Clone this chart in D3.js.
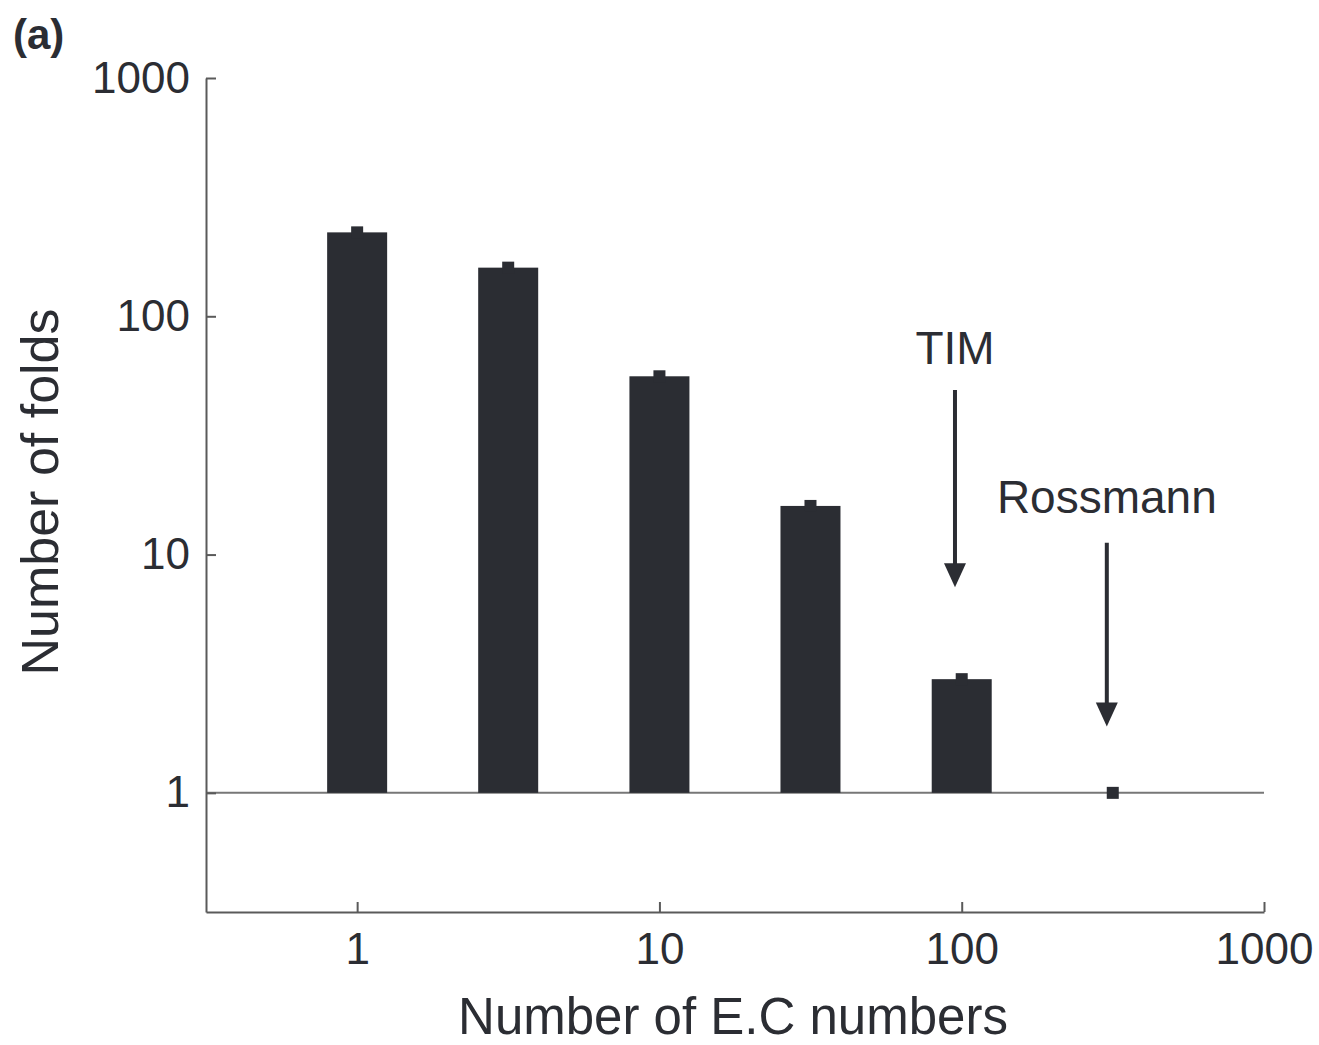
<!doctype html>
<html>
  <head>
    <meta charset="utf8">
    <script src="https://d3js.org/d3.v7.min.js"></script>
    <style type="text/css">
      body {
        margin: 0;
        background: #fff;
        font-family: 'Liberation Sans', Arial, sans-serif;
      }
    </style>
  </head>
  <body>
    <script type="text/javascript">
      const w = 1319;
      const h = 1045;
      const ink = '#2b2d33';
      const axisColor = '#5a5a5a';

      // number of E.C numbers (bin centres) and number of folds
      const ecNumbers = [1, 3.16, 10, 31.6, 100, 316];
      const folds = [225, 160, 56, 16, 3, 1];
      const tickValues = [1, 10, 100, 1000];

      // arrows: label, x, label y, arrow start y, arrow tip y (data units)
      const notes = [
        {label: 'TIM', x: 95, ty: 63, y0: 49, y1: 7.3},
        {label: 'Rossmann', x: 302, ty: 15, y0: 11.2, y1: 1.9}
      ];

      const xScale = d3.scaleLog()
        .domain([Math.pow(10, -0.5), 1000])
        .range([206, 1264]);

      const yScale = d3.scaleLog()
        .domain([Math.pow(10, -0.5), 1000])
        .range([912, 78]);

      const svg = d3.select('body')
        .append('svg')
        .attr('width', w)
        .attr('height', h);

      // baseline at 1
      svg.append('line')
        .attr('x1', xScale.range()[0])
        .attr('x2', xScale.range()[1])
        .attr('y1', yScale(1))
        .attr('y2', yScale(1))
        .attr('stroke', '#777')
        .attr('stroke-width', 2);

      const barW = 60;
      const data = ecNumbers.map((d, i) => ({x: d, y: folds[i]}));

      svg.selectAll('rect.bar')
        .data(data.filter((d) => d.y > 1))
        .enter()
        .append('rect')
        .attr('class', 'bar')
        .attr('x', (d) => xScale(d.x) - barW / 2)
        .attr('width', barW)
        .attr('y', (d) => yScale(d.y))
        .attr('height', (d) => yScale(1) - yScale(d.y))
        .attr('fill', ink);

      const m = 12;
      svg.selectAll('rect.pt')
        .data(data)
        .enter()
        .append('rect')
        .attr('class', 'pt')
        .attr('x', (d) => xScale(d.x) - m / 2)
        .attr('y', (d) => yScale(d.y) - m / 2)
        .attr('width', m)
        .attr('height', m)
        .attr('fill', ink);

      // axes
      const xAxis = d3.axisBottom(xScale)
        .tickValues(tickValues)
        .tickFormat(d3.format('d'))
        .tickSizeInner(-10)
        .tickSizeOuter(0)
        .tickPadding(21);

      const yAxis = d3.axisLeft(yScale)
        .tickValues(tickValues)
        .tickFormat(d3.format('d'))
        .tickSizeInner(-10)
        .tickSizeOuter(0)
        .tickPadding(16);

      const gx = svg.append('g')
        .attr('transform', 'translate(0,' + yScale.range()[0] + ')')
        .call(xAxis);

      const gy = svg.append('g')
        .attr('transform', 'translate(' + xScale.range()[0] + ',0)')
        .call(yAxis);

      [gx, gy].forEach((g) => {
        g.select('.domain').attr('stroke', axisColor).attr('stroke-width', 2);
        g.selectAll('.tick line').attr('stroke', axisColor).attr('stroke-width', 2);
        g.selectAll('.tick text')
          .attr('fill', ink)
          .attr('font-family', "'Liberation Sans', Arial, sans-serif")
          .attr('font-size', '44px');
      });

      // axis titles
      svg.append('text')
        .attr('x', 733)
        .attr('y', 1034)
        .attr('text-anchor', 'middle')
        .attr('font-size', '51px')
        .attr('fill', ink)
        .text('Number of E.C numbers');

      svg.append('text')
        .attr('transform', 'translate(58,492) rotate(-90)')
        .attr('text-anchor', 'middle')
        .attr('font-size', '52px')
        .attr('fill', ink)
        .text('Number of folds');

      svg.append('text')
        .attr('x', 13)
        .attr('y', 49)
        .attr('font-size', '42px')
        .attr('font-weight', 'bold')
        .attr('fill', ink)
        .text('(a)');

      // annotations
      const note = svg.selectAll('g.note')
        .data(notes)
        .enter()
        .append('g')
        .attr('class', 'note');

      note.append('text')
        .attr('x', (d) => xScale(d.x))
        .attr('y', (d) => yScale(d.ty))
        .attr('text-anchor', 'middle')
        .attr('font-size', '46px')
        .attr('fill', ink)
        .text((d) => d.label);

      note.append('line')
        .attr('x1', (d) => xScale(d.x))
        .attr('x2', (d) => xScale(d.x))
        .attr('y1', (d) => yScale(d.y0))
        .attr('y2', (d) => yScale(d.y1) - 20)
        .attr('stroke', ink)
        .attr('stroke-width', 4);

      note.append('path')
        .attr('d', (d) => {
          const x = xScale(d.x);
          const y = yScale(d.y1);
          return 'M' + (x - 11) + ',' + (y - 24) + 'L' + (x + 11) + ',' + (y - 24) + 'L' + x + ',' + y + 'Z';
        })
        .attr('fill', ink);
    </script>
  </body>
</html>
